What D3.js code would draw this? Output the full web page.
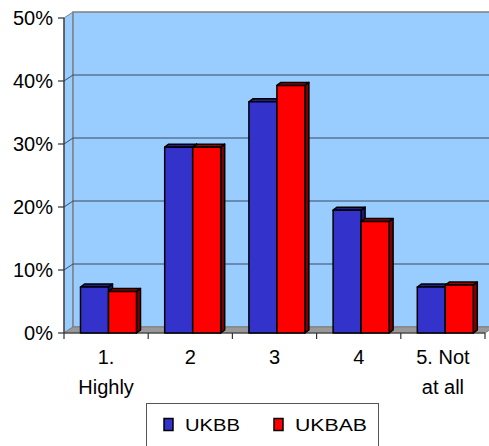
<!DOCTYPE html>
<html>
<head>
<meta charset="utf-8">
<script src="https://cdn.jsdelivr.net/npm/d3@7/dist/d3.min.js"></script>
<style>
  html, body { margin: 0; padding: 0; background: #fff; }
  svg { display: block; font-family: Arial, "Liberation Sans", sans-serif; }
</style>
</head>
<body>
<svg id="chart" width="489" height="446"></svg>
<script>
// Share of respondents per answer, by sample
const categories = ["1", "2", "3", "4", "5"];
const tickLabels = [["1.", "Highly"], ["2"], ["3"], ["4"], ["5. Not", "at all"]];
const seriesNames = ["UKBB", "UKBAB"];
const ukbb = [0.073, 0.295, 0.367, 0.195, 0.073];
const ukbab = [0.066, 0.295, 0.393, 0.177, 0.076];
const yTicks = [0, 0.1, 0.2, 0.3, 0.4, 0.5];

const seriesValues = [ukbb, ukbab];
const colors = { front: ["#3333CC", "#FF0000"], top: ["#22228a", "#a00000"], side: ["#1c1c70", "#800000"] };

const svg = d3.select("#chart");

// plot geometry: front plane and 3D offset of the back wall
const left = 64, right = 485;
const wallDX = 9, wallDY = 6;
const barDX = 4, barDY = 3;

const y = d3.scaleLinear().domain([0, 0.5]).range([333, 18]);
const x = d3.scaleBand().domain(categories).range([left, right]).paddingInner(0).paddingOuter(0);
const xs = d3.scaleBand().domain(seriesNames).range([16.5, 72.5]).padding(0);

const poly = pts => pts.map(p => p.join(",")).join(" ");

// side wall (left)
svg.append("polygon")
  .attr("points", poly([[left, y(0.5)], [left + wallDX, y(0.5) - wallDY], [left + wallDX, y(0) - wallDY], [left, y(0)]]))
  .attr("fill", "#99CCFF").attr("stroke", "#808080").attr("stroke-width", 1);

// back wall
svg.append("rect")
  .attr("x", left + wallDX).attr("y", y(0.5) - wallDY)
  .attr("width", 489 - left - wallDX + 5).attr("height", y(0) - y(0.5))
  .attr("fill", "#99CCFF").attr("stroke", "#808080").attr("stroke-width", 1.5);

// gridlines on back wall and side wall
const grid = svg.append("g");
yTicks.filter(t => t > 0 && t < 0.5).forEach(t => {
  grid.append("line")
    .attr("x1", left + wallDX).attr("x2", 489)
    .attr("y1", y(t) - wallDY).attr("y2", y(t) - wallDY)
    .attr("stroke", "#3a4a60").attr("stroke-width", 1.2);
  grid.append("line")
    .attr("x1", left).attr("x2", left + wallDX)
    .attr("y1", y(t)).attr("y2", y(t) - wallDY)
    .attr("stroke", "#3a4a60").attr("stroke-width", 1);
});

// floor
svg.append("polygon")
  .attr("points", poly([[left, y(0)], [left + wallDX, y(0) - wallDY], [right + wallDX, y(0) - wallDY], [right, y(0)]]))
  .attr("fill", "#999999").attr("stroke", "#808080").attr("stroke-width", 1);

// value axis
svg.append("line")
  .attr("x1", left).attr("x2", left).attr("y1", y(0.5)).attr("y2", y(0))
  .attr("stroke", "#333").attr("stroke-width", 1.2);
const yAxis = svg.append("g");
yTicks.forEach(t => {
  yAxis.append("line")
    .attr("x1", left - 6).attr("x2", left).attr("y1", y(t)).attr("y2", y(t))
    .attr("stroke", "#333").attr("stroke-width", 1.2);
  yAxis.append("text")
    .attr("x", 53).attr("y", y(t) + 7)
    .attr("text-anchor", "end").attr("font-size", 20).attr("fill", "#000")
    .text(d3.format(".0%")(t));
});

// category axis
svg.append("line")
  .attr("x1", left).attr("x2", right).attr("y1", y(0)).attr("y2", y(0))
  .attr("stroke", "#333").attr("stroke-width", 1.2);
const xAxis = svg.append("g");
categories.concat(["end"]).forEach((c, i) => {
  const xp = i < categories.length ? x(c) : right;
  xAxis.append("line")
    .attr("x1", xp).attr("x2", xp).attr("y1", y(0)).attr("y2", y(0) + 6)
    .attr("stroke", "#333").attr("stroke-width", 1.2);
});
categories.forEach((c, i) => {
  const t = xAxis.append("text")
    .attr("text-anchor", "middle").attr("font-size", 20).attr("fill", "#000");
  tickLabels[i].forEach((line, j) => {
    t.append("tspan").attr("x", x(c) + x.bandwidth() / 2).attr("y", 364 + j * 30).text(line);
  });
});

// bars
const bars = svg.append("g");
categories.forEach((c, i) => {
  seriesNames.forEach((s, k) => {
    const v = seriesValues[k][i];
    const x0 = x(c) + xs(s), w = xs.bandwidth();
    const yt = y(v), yb = y(0);
    const g = bars.append("g").attr("stroke", "#000").attr("stroke-width", 1.5).attr("stroke-linejoin", "round");
    g.append("polygon")
      .attr("points", poly([[x0 + w, yt], [x0 + w + barDX, yt - barDY], [x0 + w + barDX, yb - barDY], [x0 + w, yb]]))
      .attr("fill", colors.side[k]);
    g.append("polygon")
      .attr("points", poly([[x0, yt], [x0 + barDX, yt - barDY], [x0 + w + barDX, yt - barDY], [x0 + w, yt]]))
      .attr("fill", colors.top[k]);
    g.append("rect")
      .attr("x", x0).attr("y", yt).attr("width", w).attr("height", yb - yt)
      .attr("fill", colors.front[k]);
  });
});

// legend
const legend = svg.append("g");
legend.append("rect")
  .attr("x", 146.5).attr("y", 403.5).attr("width", 232).attr("height", 60)
  .attr("fill", "#fff").attr("stroke", "#555").attr("stroke-width", 1);
const legendItems = [
  { name: seriesNames[0], sx: 164, tx: 185, tw: 55 },
  { name: seriesNames[1], sx: 274, tx: 295, tw: 72 }
];
legendItems.forEach((it, k) => {
  legend.append("rect")
    .attr("x", it.sx).attr("y", 418.5).attr("width", 9).attr("height", 12)
    .attr("fill", colors.front[k]).attr("stroke", "#000").attr("stroke-width", 1.5);
  legend.append("text")
    .attr("x", it.tx).attr("y", 431)
    .attr("font-size", 16.5).attr("fill", "#000")
    .attr("textLength", it.tw).attr("lengthAdjust", "spacingAndGlyphs")
    .text(it.name);
});
</script>
</body>
</html>
